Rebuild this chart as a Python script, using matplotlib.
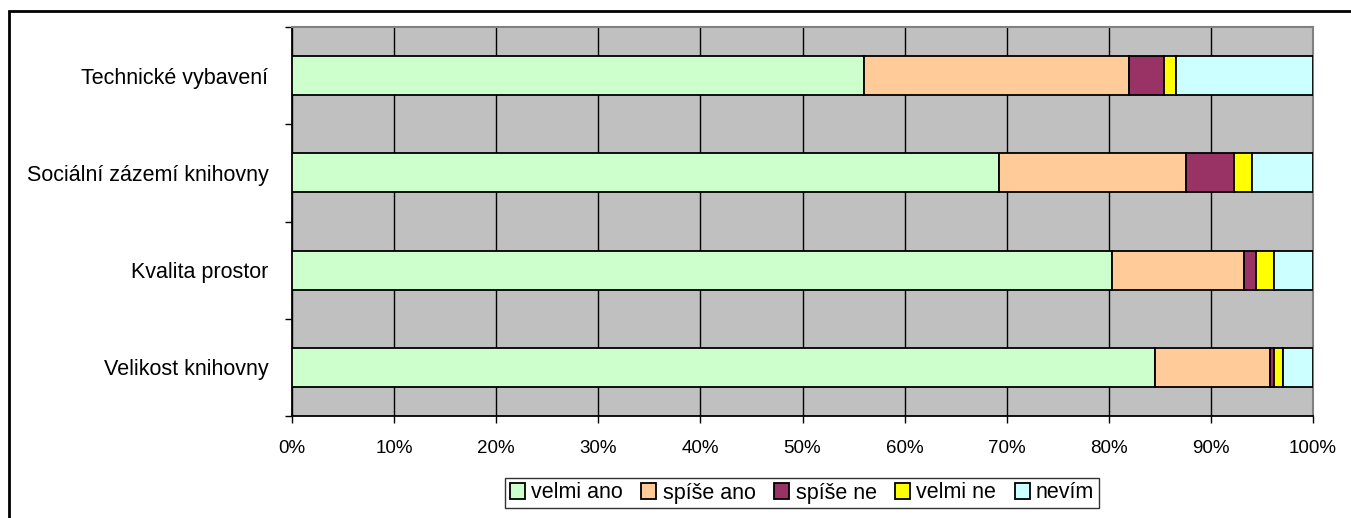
import matplotlib
matplotlib.use("Agg")
import matplotlib.pyplot as plt
from matplotlib.patches import Rectangle
import numpy as np

plt.rcParams["font.family"] = ["Liberation Sans", "DejaVu Sans"]

categories = ["Velikost knihovny", "Kvalita prostor",
              "Sociální zázemí knihovny", "Technické vybavení"]
series_names = ["velmi ano", "spíše ano", "spíše ne", "velmi ne", "nevím"]
colors = ["#CCFFCC", "#FFCC99", "#993366", "#FFFF00", "#CCFFFF"]

# shares in %, one list per answer, in category order (bottom to top)
velmi_ano = [84.5, 80.3, 69.2, 56.0]
spise_ano = [11.3, 12.9, 18.4, 26.0]
spise_ne = [0.4, 1.2, 4.7, 3.4]
velmi_ne = [0.9, 1.8, 1.7, 1.2]
nevim = [2.9, 3.8, 6.0, 13.4]

values = [velmi_ano, spise_ano, spise_ne, velmi_ne, nevim]

W, H = 1351, 518
fig = plt.figure(figsize=(W / 100, H / 100), dpi=100)

# outer chart frame (runs off the right/bottom edge like the source)
fig.patches.append(Rectangle((8.5 / W, -0.1), 1.2, 1 - 10.5 / H + 0.1,
                             transform=fig.transFigure, fill=False,
                             edgecolor="black", linewidth=2))

ax = fig.add_axes([292 / W, 1 - 416 / H, (1313 - 292) / W, (416 - 27) / H])
ax.set_facecolor("#C0C0C0")

y = np.arange(len(categories))
left = np.zeros(len(categories))
for name, vals, col in zip(series_names, values, colors):
    ax.barh(y, vals, left=left, height=0.4, color=col, edgecolor="black",
            linewidth=1.3, label=name, zorder=3)
    left += np.array(vals)

ax.set_xlim(0, 100)
ax.set_ylim(-0.5, len(categories) - 0.5)
ax.set_xticks(np.arange(0, 101, 10))
ax.set_xticklabels([f"{v}%" for v in range(0, 101, 10)], fontsize=13.5)
ax.grid(axis="x", color="black", linewidth=1, zorder=1)
ax.set_axisbelow(True)

ax.set_yticks(y)
ax.set_yticklabels(categories, fontsize=15.5)
ax.set_yticks(np.arange(-0.5, len(categories), 1), minor=True)
ax.tick_params(axis="y", which="major", length=0, pad=17)
ax.tick_params(axis="y", which="minor", length=5, width=1, direction="out")
ax.tick_params(axis="x", length=5, width=1, direction="out", pad=12)

for s in ("left", "bottom"):
    ax.spines[s].set_color("black")
    ax.spines[s].set_linewidth(1.3)
for s in ("top", "right"):
    ax.spines[s].set_color("#808080")
    ax.spines[s].set_linewidth(1.5)

leg = fig.legend(loc="center", bbox_to_anchor=(802 / W, 1 - 493 / H), ncol=5,
                 fontsize=15.5, frameon=True, fancybox=False, edgecolor="black",
                 handlelength=0.7, handleheight=0.7, handletextpad=0.3,
                 columnspacing=0.85, borderpad=0.2, borderaxespad=0)
leg.get_frame().set_linewidth(1)

fig.savefig("out.png", dpi=100)
